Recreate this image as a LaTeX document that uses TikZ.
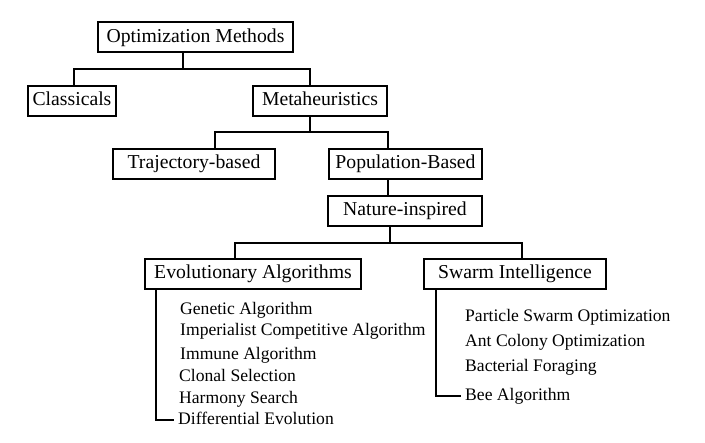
\documentclass[tikz,border=0pt]{standalone}
\usepackage{fontspec}
\setmainfont{Liberation Serif}
\begin{document}
\begin{tikzpicture}[x=1pt,y=-1pt,
        box/.style={rectangle,draw,line width=2pt,minimum height=30pt,inner sep=0pt,
          font=\rmfamily\fontsize{19.7}{23}\selectfont,text height=13.5pt,text depth=4pt},
        item/.style={anchor=west,inner xsep=4pt,inner ysep=0pt,
          font=\rmfamily\fontsize{17.6}{21}\selectfont,text height=12pt,text depth=3.5pt},
        link/.style={line width=2pt,line join=miter}]
        \useasboundingbox (0,0) rectangle (705,443);
        % boxes
        \node[box,minimum width=195pt] (om) at (195.5,37.5) {Optimization Methods};
        \node[box,minimum width=88pt] (cl) at (72,101) {Classicals};
        \node[box,minimum width=134pt] (mh) at (320,101) {Metaheuristics};
        \node[box,minimum width=162pt] (tb) at (194,164) {Trajectory-based};
        \node[box,minimum width=153pt] (pb) at (405.5,164) {Population-Based};
        \node[box,minimum width=154pt] (ni) at (405,211) {Nature-inspired};
        \node[box,minimum width=216pt] (ea) at (253,274) {Evolutionary Algorithms};
        \node[box,minimum width=182pt] (si) at (515,274) {Swarm Intelligence};
        % algorithm lists
        \node[item] (ga) at (176,310) {Genetic Algorithm};
        \node[item] (ic) at (176,331) {Imperialist Competitive Algorithm};
        \node[item] (ia) at (176,355) {Immune Algorithm};
        \node[item] (cs) at (175,377) {Clonal Selection};
        \node[item] (hs) at (175,399) {Harmony Search};
        \node[item] (de) at (174,420) {Differential Evolution};
        \node[item] (ps) at (461,317) {Particle Swarm Optimization};
        \node[item] (ac) at (461,342) {Ant Colony Optimization};
        \node[item] (bf) at (461,367) {Bacterial Foraging};
        \node[item] (ba) at (461,396) {Bee Algorithm};
        % junctions
        \coordinate (j1) at (183,69);
        \coordinate (j2) at (310,132);
        \coordinate (j3) at (390,243);
        \draw[link] (om.south -| j1) -- (j1);
        \draw[link] ([xshift=2pt]cl.north) |- (j1) -| ([xshift=-10pt]mh.north);
        \draw[link] (mh.south -| j2) -- (j2);
        \draw[link] ([xshift=21pt]tb.north) |- (j2) -| ([xshift=-17.5pt]pb.north);
        \draw[link] ([xshift=-17.5pt]pb.south) -- ([xshift=-17.5pt]pb.south |- ni.north);
        \draw[link] (ni.south -| j3) -- (j3);
        \draw[link] ([xshift=-18pt]ea.north) |- (j3) -| ([xshift=7pt]si.north);
        \draw[link] ([xshift=12pt]ea.south west) |- (de.west);
        \draw[link] ([xshift=13pt]si.south west) |- (ba.west);
      \end{tikzpicture}
\end{document}
